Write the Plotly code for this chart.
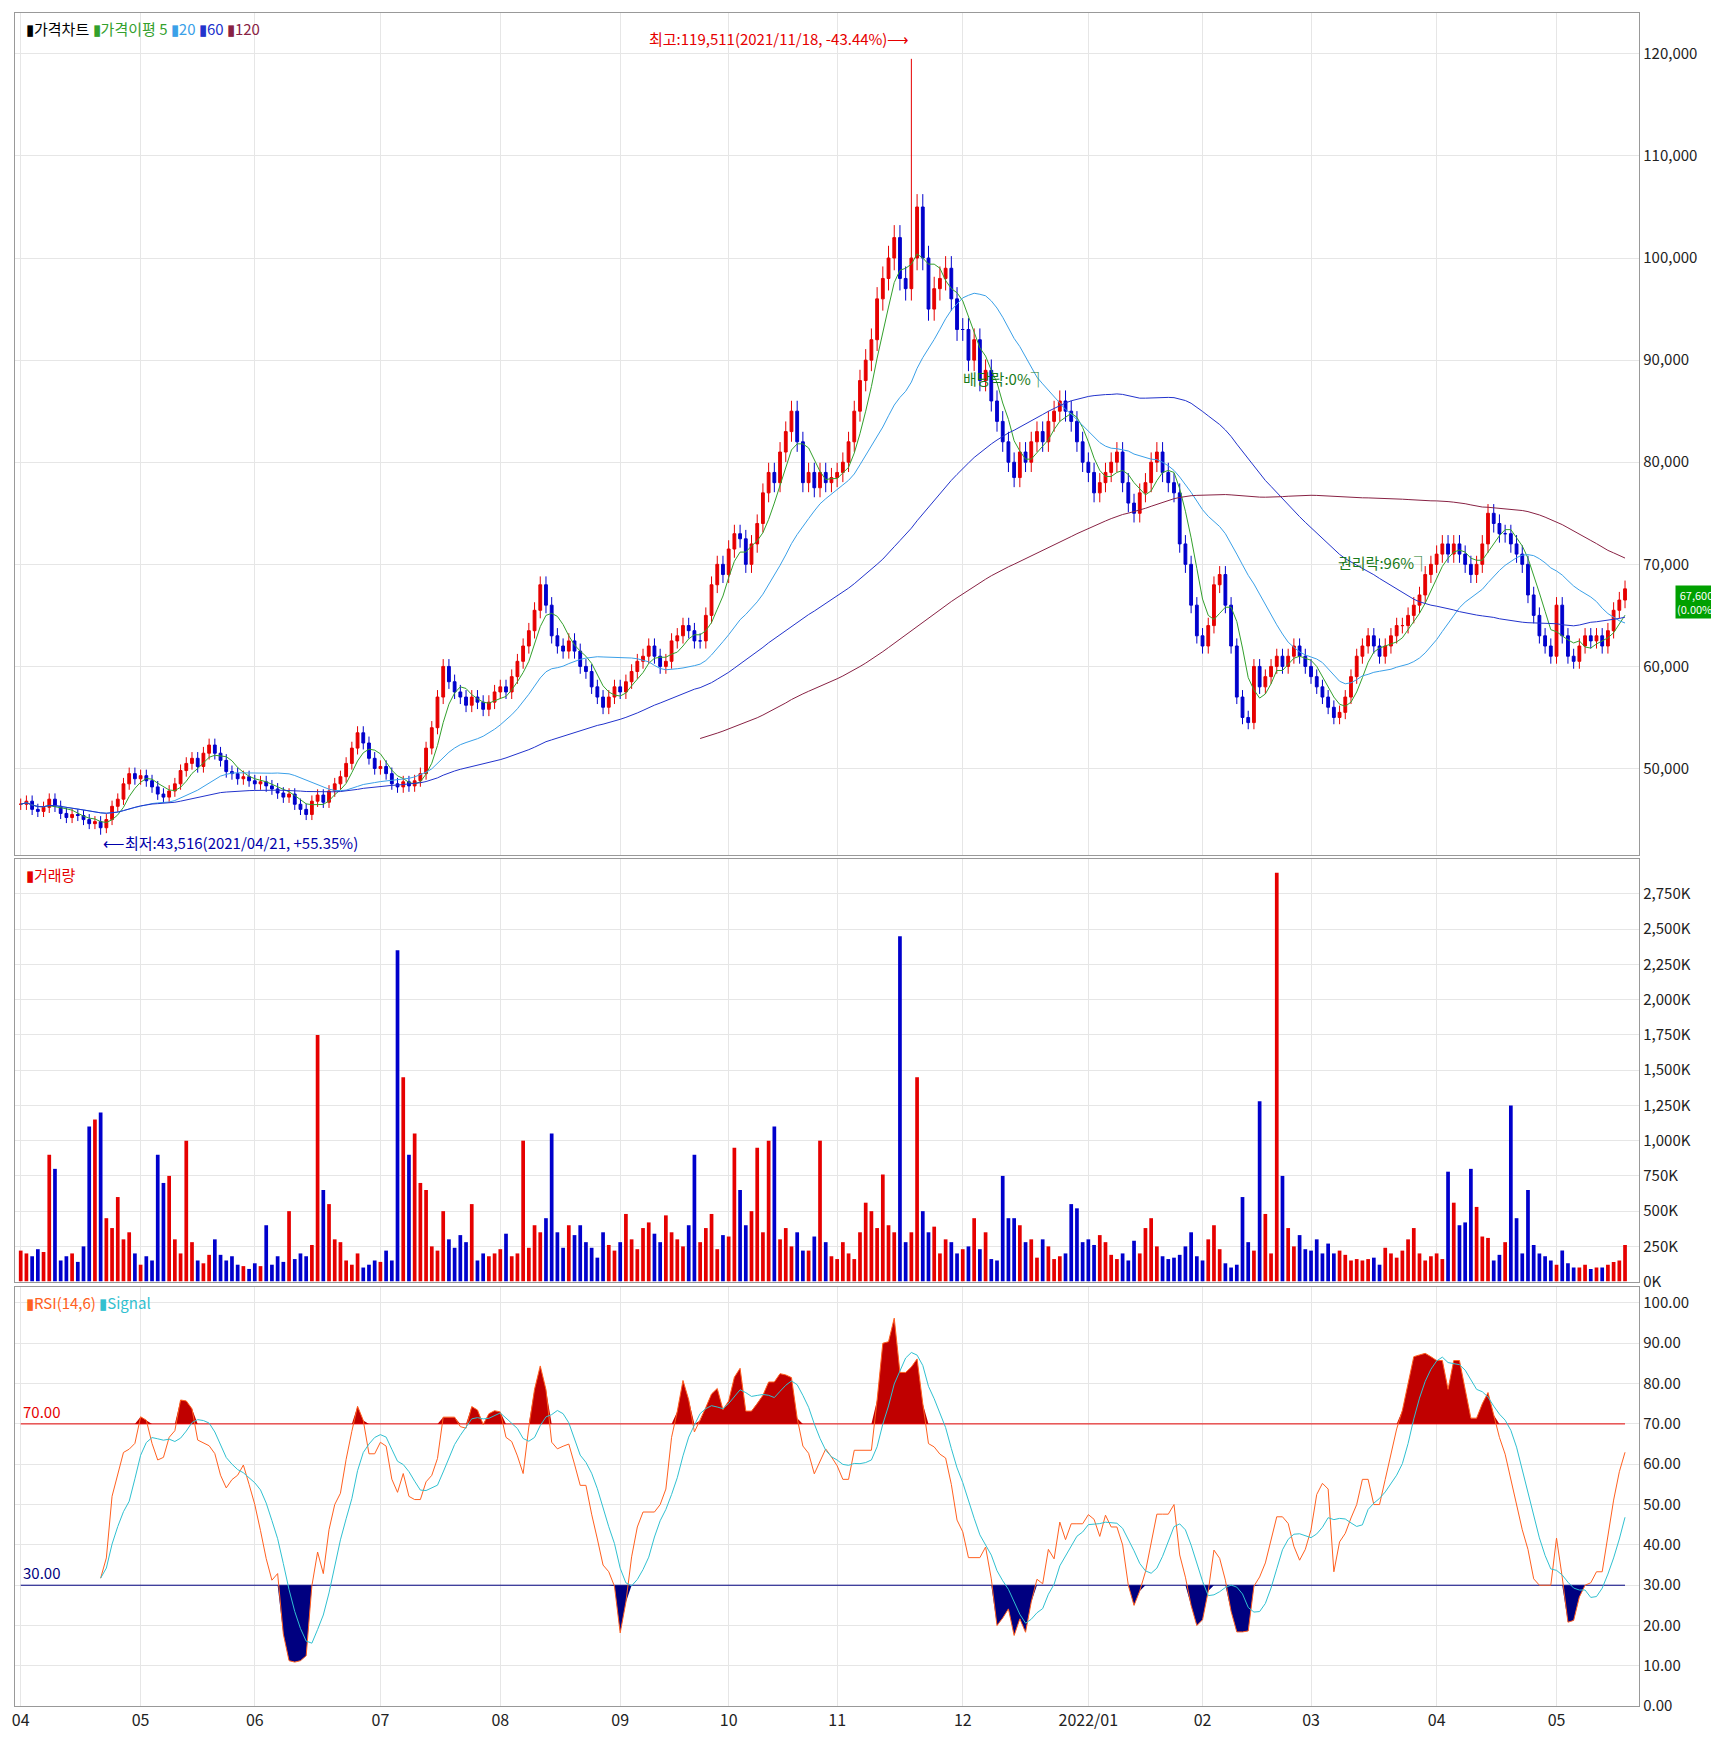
import numpy as np, pandas as pd
import plotly.graph_objects as go

month_labels = ["04","05","06","07","08","09","10","11","12","2022/01","02","03","04","05"]
closes_by_month = [
 [46.5,46.8,46,45.8,46.2,47,46.3,45.6,45.2,45.5,45.4,45,44.6,44.8,44.2,45,46.3,47,48.5,49.5,49],
 [49.3,48.8,48.2,47.5,47.2,47.8,48.5,49.8,50.5,51,50.2,51.5,52.3,51.5,50.8,49.7,49.5,49,49.2,48.8],
 [48.5,48.7,48.3,48.0,47.6,47.2,47.5,46.5,46,45.5,46.8,47.4,46.7,47.8,48.5,49.2,50.5,52,53.5,52.5,51,50],
 [50.2,49.5,48.5,48.2,48.7,48.3,48.8,49.5,52,54,57,60,58.5,57.5,57,56.2,57,56.5,55.8,56.5,57.5],
 [58,57.5,59,60.5,62,63.5,65.5,68,66,63,62,61.5,62.5,61.5,60,59.5,58,57,56,57,58],
 [57.5,58.5,59.5,60.5,61,62,61,60,60.5,62.5,63,64,63.5,62.5,62.5,65,68,70,69],
 [71.5,73,72.5,70,72,74,77,79,78,81,83,85,82,78,79,77.5,79,78,78.5],
 [79,80,82,85,88,90,92,96,98,100,102,98,97,100,105,100,95,97,98,99,96,93],
 [93,90,92,88,89,86,84,82,80,78.5,81,80,82,83,82,84,85,86,85,84,82,80],
 [79,77,78,79,80,81,78,76,75,77,78,80,81,79,78,77,72,70,66,63],
 [62,64,68,69,66,62,57,55,54.5,60,58,59,60,61,60,61,62,61,60],
 [59,58,57,56,55,55.5,57,59,61,62,63,62,61,62,63,64,64,65,66,67,69,70],
 [71,72,71,72,71,70,69,70,72,75,74,73,73,72,71,70,67,65,63,62,61],
 [66,63,61,60.5,62,63,62.5,63,62,63.5,65.5,66.5,67.6],
]
volume_by_month = [
 [220,200,180,230,210,900,800,150,180,200,140,250,1100,1150,1200,450,380,600,300,350,200],
 [120,180,150,900,700,750,300,200,1000,280,150,130,190,300,190,150,180,120,110,90],
 [130,110,400,120,180,140,500,160,200,180,260,1750,650,550,300,280,150,120,200,100,120,150],
 [140,220,150,2350,1450,900,1050,700,650,250,220,500,300,240,330,280,550,150,200,180,200],
 [230,340,180,200,1000,240,400,350,450,1050,350,240,400,330,400,280,240,170,350,260,220],
 [280,480,300,230,380,420,340,280,470,350,300,250,400,900,280,380,480,230,330],
 [320,950,650,400,500,950,350,1000,1100,300,380,250,350,220,220,320,1000,280,180,160],
 [280,200,160,350,560,500,380,760,400,350,2450,280,350,1450,500,350,390,200,300,280,200,230],
 [250,450,230,350,160,150,750,450,450,400,280,300,170,300,250,160,180,200,550,520,280,300],
 [260,330,280,190,160,200,150,290,200,380,450,250,180,160,170,190,250,350,180,150],
 [300,400,230,130,100,120,600,280,220,1280,480,200,2900,750,380,250,330,230],
 [220,300,200,270,200,220,190,150,160,150,160,170,120,240,200,170,220,300,380,200,150,180],
 [200,160,780,560,400,420,800,530,320,310,150,190,280,1250,450,200,650,260,200,180,150,120],
 [220,130,100,100,120,90,100,100,120,140,150,260,200],
]
max_label = "최고:119,511(2021/11/18, -43.44%)"
min_label = "최저:43,516(2021/04/21, +55.35%)"

closes = sum(closes_by_month, [])
vols = sum(volume_by_month, [])
n = len(closes)
vols = (vols + [150]*n)[:n]
x = np.arange(n)
c = np.array(closes)*1000
o = np.r_[c[0], c[:-1]]
hi = np.maximum(o, c)*1.012
lo = np.minimum(o, c)*0.988
peak_i = sum(len(m) for m in closes_by_month[:7]) + 13
hi[peak_i] = 119511
lo[14] = 43516
s = pd.Series(c)
ma5 = s.rolling(5, min_periods=1).mean()
ma20 = s.rolling(20, min_periods=1).mean()
ma60 = s.rolling(60, min_periods=1).mean()
ma120 = s.rolling(120).mean()
d = s.diff()
up = d.clip(lower=0).rolling(14).mean()
dn = (-d.clip(upper=0)).rolling(14).mean()
rsi = 100*up/(up+dn)
sig = rsi.rolling(6, min_periods=1).mean()

starts = np.cumsum([0]+[len(m) for m in closes_by_month[:-1]])

fig = go.Figure()
fig.add_trace(go.Candlestick(x=x, open=o, high=hi, low=lo, close=c,
    increasing=dict(line=dict(color="#e60000", width=1), fillcolor="#e60000"),
    decreasing=dict(line=dict(color="#0000cc", width=1), fillcolor="#0000cc"),
    whiskerwidth=0, yaxis="y", showlegend=False))
for m, col in [(ma5,"#33a02c"),(ma20,"#3aa0e8"),(ma60,"#2233cc"),(ma120,"#882244")]:
    fig.add_trace(go.Scatter(x=x, y=m, mode="lines", line=dict(color=col, width=1), yaxis="y", showlegend=False))
vc = ["#e60000" if c[i] >= o[i] else "#0000cc" for i in range(n)]
fig.add_trace(go.Bar(x=x, y=np.array(vols)*1000, marker_color=vc, marker_line_width=0, yaxis="y2", xaxis="x2", showlegend=False))
fig.add_trace(go.Scatter(x=x, y=[70]*n, mode="lines", line=dict(color="#e60000", width=1), yaxis="y3", xaxis="x3", showlegend=False))
fig.add_trace(go.Scatter(x=x, y=np.fmax(rsi,70), mode="lines", line=dict(width=0), fill="tonexty", fillcolor="#c00000", yaxis="y3", xaxis="x3", showlegend=False))
fig.add_trace(go.Scatter(x=x, y=[30]*n, mode="lines", line=dict(color="#000080", width=1), yaxis="y3", xaxis="x3", showlegend=False))
fig.add_trace(go.Scatter(x=x, y=np.fmin(rsi,30), mode="lines", line=dict(width=0), fill="tonexty", fillcolor="#000080", yaxis="y3", xaxis="x3", showlegend=False))
fig.add_trace(go.Scatter(x=x, y=rsi, mode="lines", line=dict(color="#ff6020", width=1), yaxis="y3", xaxis="x3", showlegend=False))
fig.add_trace(go.Scatter(x=x, y=sig, mode="lines", line=dict(color="#30c0d0", width=1), yaxis="y3", xaxis="x3", showlegend=False))

xr = [-1, n+1.5]
grid = "#e6e6e6"
ax = dict(range=xr, showgrid=True, gridcolor=grid, tickvals=list(starts), showline=True, linecolor="#999", mirror=True, zeroline=False)
fig.update_layout(
    width=1719, height=1754, paper_bgcolor="white", plot_bgcolor="white",
    margin=dict(l=4, r=4, t=4, b=30), font=dict(family="Noto Sans CJK KR", size=15, color="#222"),
    xaxis=dict(ax, domain=[0, 0.951], rangeslider=dict(visible=False), showticklabels=False, anchor="y"),
    xaxis2=dict(ax, domain=[0, 0.951], showticklabels=False, anchor="y2", matches="x"),
    xaxis3=dict(ax, domain=[0, 0.951], ticktext=month_labels, anchor="y3", matches="x", tickfont=dict(size=16)),
    yaxis=dict(domain=[0.51, 1], range=[41500, 124000], side="right", tickvals=list(range(50000,120001,10000)), tickformat=",", gridcolor=grid, showline=True, linecolor="#999", mirror=True, zeroline=False),
    yaxis2=dict(domain=[0.262, 0.508], range=[0, 3000000], side="right", tickvals=list(range(0,2750001,250000)),
        ticktext=[f"{v:,}K" for v in range(0,2751,250)], gridcolor=grid, showline=True, linecolor="#999", mirror=True, zeroline=False, anchor="x2"),
    yaxis3=dict(domain=[0.015, 0.259], range=[0, 104], side="right", tickvals=list(range(0,101,10)), tickformat=".2f", gridcolor=grid, showline=True, linecolor="#999", mirror=True, zeroline=False, anchor="x3"),
    bargap=0.35,
)
g = "#1a7a1a"
ann = [
 dict(x=0.005, y=0.998, xref="paper", yref="paper", text="<span style='color:#000'>▮가격차트</span> <span style='color:#33a02c'>▮가격이평 5</span> <span style='color:#3aa0e8'>▮20</span> <span style='color:#2233cc'>▮60</span> <span style='color:#882244'>▮120</span>", showarrow=False, xanchor="left", yanchor="top"),
 dict(x=0.005, y=0.506, xref="paper", yref="paper", text="<span style='color:#e60000'>▮거래량</span>", showarrow=False, xanchor="left", yanchor="top"),
 dict(x=0.005, y=0.257, xref="paper", yref="paper", text="<span style='color:#ff6020'>▮RSI(14,6)</span> <span style='color:#30c0d0'>▮Signal</span>", showarrow=False, xanchor="left", yanchor="top"),
 dict(x=peak_i, y=121500, xref="x", yref="y", text=max_label+"⟶", showarrow=False, xanchor="right", font=dict(color="#e60000")),
 dict(x=14, y=44000, xref="x", yref="y", text="⟵"+min_label, showarrow=False, xanchor="left", yanchor="top", font=dict(color="#0000aa")),
 dict(x=starts[8]+15, y=88200, xref="x", yref="y", text="배당락:0%⏋", showarrow=False, xanchor="right", font=dict(color=g)),
 dict(x=starts[12]-1, y=70200, xref="x", yref="y", text="권리락:96%⏋", showarrow=False, xanchor="right", font=dict(color=g)),
 dict(x=0.997, y=66300, xref="paper", yref="y", text="67,600<br>(0.00%)", showarrow=False, xanchor="right", bgcolor="#00a000", borderpad=1, font=dict(color="white", size=11)),
 dict(x=0.0, y=70, xref="x3", yref="y3", text="70.00", showarrow=False, xanchor="left", yanchor="bottom", font=dict(color="#e60000")),
 dict(x=0.0, y=30, xref="x3", yref="y3", text="30.00", showarrow=False, xanchor="left", yanchor="bottom", font=dict(color="#000080")),
]
fig.update_layout(annotations=ann)
fig.write_html("out.html")
